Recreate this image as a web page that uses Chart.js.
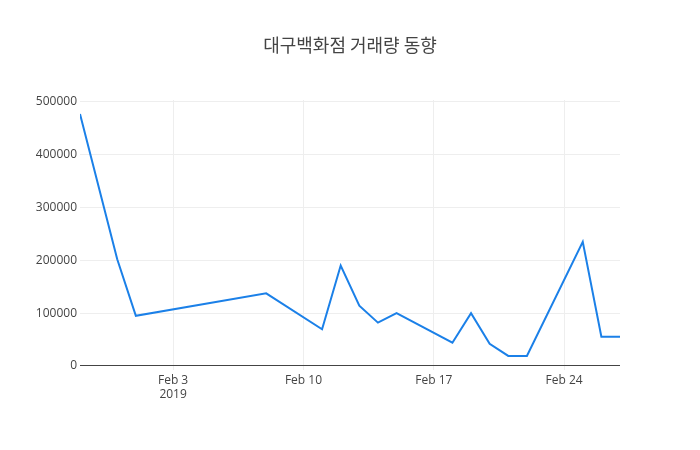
<!DOCTYPE html>
<html>
<head>
<meta charset="utf-8">
<script src="https://cdn.jsdelivr.net/npm/chart.js@4/dist/chart.umd.min.js"></script>
<style>
html,body{margin:0;padding:0;background:#fff;}
#wrap{width:700px;height:450px;}
</style>
</head>
<body>
<div id="wrap"><canvas id="c" width="700" height="450"></canvas></div>
<script>
const titleText = '대구백화점 거래량 동향';
const dates = ['2019-01-29','2019-01-31','2019-02-01','2019-02-08','2019-02-11','2019-02-12','2019-02-13','2019-02-14','2019-02-15','2019-02-18','2019-02-19','2019-02-20','2019-02-21','2019-02-22','2019-02-25','2019-02-26','2019-02-27'];
const volumes = [477000,202000,95000,137500,69500,190000,114000,82000,100000,44000,100000,42000,19000,19000,235000,55500,55500];
const xTickDates = ['2019-02-03','2019-02-10','2019-02-17','2019-02-24'];
const xTickLabels = [['Feb 3','2019'],['Feb 10'],['Feb 17'],['Feb 24']];
const yTicks = [0,100000,200000,300000,400000,500000];

const DAY = 86400000;
const toDay = s => Date.parse(s + 'T00:00:00Z') / DAY;
const points = dates.map((d,i)=>({x: toDay(d), y: volumes[i]}));
const xTickVals = xTickDates.map(toDay);

const font = {family: '"Open Sans", "Noto Sans CJK KR", sans-serif', size: 12};
new Chart(document.getElementById('c'), {
  type: 'line',
  data: {datasets: [{
    data: points,
    borderColor: 'rgb(27,128,232)',
    borderWidth: 2,
    pointRadius: 0,
    tension: 0,
    fill: false
  }]},
  options: {
    responsive: false,
    animation: false,
    layout: {padding: 0},
    plugins: {
      legend: {display: false},
      tooltip: {enabled: false},
      title: {
        display: true,
        text: titleText,
        color: '#444',
        font: {family: '"Noto Sans CJK KR", "Open Sans", sans-serif', size: 18, weight: 'normal', lineHeight: 1.2},
        padding: {top: 34, bottom: 44.4}
      }
    },
    scales: {
      x: {
        type: 'linear',
        min: toDay(dates[0]),
        max: toDay(dates[dates.length-1]),
        afterBuildTicks: s => { s.ticks = xTickVals.map(v=>({value:v})); },
        afterFit: s => { s.height = 80; },
        ticks: {
          color: '#444', font: font, padding: 3, maxRotation: 0, autoSkip: false,
          callback: (v) => { const i = xTickVals.indexOf(v); return i >= 0 ? xTickLabels[i] : ''; }
        },
        grid: {color: '#eee', drawTicks: false},
        border: {display: false}
      },
      y: {
        type: 'linear',
        min: -7600,
        max: 503300,
        afterBuildTicks: s => { s.ticks = yTicks.map(v=>({value:v})); },
        afterFit: s => { s.width = 80; },
        ticks: {color: '#444', font: font, padding: 3, callback: v => String(v)},
        grid: {
          color: c => (c.tick && c.tick.value === 0) ? '#444' : '#eee',
          drawTicks: false
        },
        border: {display: false}
      },
      yRight: {
        type: 'linear',
        position: 'right',
        display: true,
        afterFit: s => { s.width = 80; },
        ticks: {display: false},
        grid: {display: false, drawOnChartArea: false},
        border: {display: false}
      }
    }
  }
});
</script>
</body>
</html>
